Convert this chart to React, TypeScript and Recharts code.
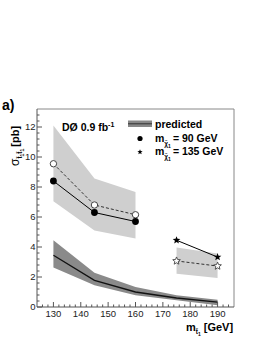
import React from "react";
import {
  ComposedChart,
  Area,
  Line,
  XAxis,
  YAxis,
  ReferenceLine,
} from "recharts";

// stop masses [GeV]
const masses = [130, 145, 160, 175, 190];

// predicted cross section (central, low, high) [pb]
const predCentral = [3.45, 1.78, 1.0, 0.6, 0.32];
const predLow = [2.63, 1.45, 0.78, 0.45, 0.12];
const predHigh = [4.45, 2.29, 1.33, 0.78, 0.48];

// m_chi = 90 GeV limits
const obs90 = [8.4, 6.3, 5.7, null, null];
const exp90 = [9.55, 6.8, 6.15, null, null];
const band90Low = [7.05, 5.1, 4.56, null, null];
const band90High = [12.1, 8.56, 7.67, null, null];

// m_chi = 135 GeV limits
const obs135 = [null, null, null, 4.45, 3.33];
const exp135 = [null, null, null, 3.07, 2.73];
const band135Low = [null, null, null, 2.22, 1.93];
const band135High = [null, null, null, 3.96, 3.56];

const xMajor = [130, 140, 150, 160, 170, 180, 190];
const yMajor = [0, 2, 4, 6, 8, 10, 12];

const xTicks: number[] = [];
for (let v = 126; v <= 194; v += 2) xTicks.push(v);
const yTicks: number[] = [];
for (let i = 0; i <= 32; i++) yTicks.push(Math.round(i * 4) / 10);

const data = masses.map((m, i) => ({
  m,
  pred: predCentral[i],
  predBand: [predLow[i], predHigh[i]],
  obs90: obs90[i],
  exp90: exp90[i],
  band90: band90Low[i] != null ? [band90Low[i], band90High[i]] : null,
  obs135: obs135[i],
  exp135: exp135[i],
  band135: band135Low[i] != null ? [band135Low[i], band135High[i]] : null,
}));

const FONT = "'Liberation Sans', Arial, Helvetica, sans-serif";
const AXIS = "#555";

const starPoints = (cx: number, cy: number, ro: number, ri: number) => {
  const pts: string[] = [];
  for (let k = 0; k < 10; k++) {
    const r = k % 2 === 0 ? ro : ri;
    const a = -Math.PI / 2 + (k * Math.PI) / 5;
    pts.push(`${cx + r * Math.cos(a)},${cy + r * Math.sin(a)}`);
  }
  return pts.join(" ");
};

const YTick = (props: any) => {
  const { x, y, payload } = props;
  const major = yMajor.includes(payload.value);
  return (
    <g>
      <line x1={x} x2={x + (major ? 5 : 2.5)} y1={y} y2={y} stroke={AXIS} />
      {major && (
        <text x={x - 1.5} y={y + 3.3} textAnchor="end" fontSize={9.5} fill="#222" fontFamily={FONT}>
          {payload.value}
        </text>
      )}
    </g>
  );
};

const XTick = (props: any) => {
  const { x, y, payload } = props;
  const major = xMajor.includes(payload.value);
  return (
    <g>
      <line x1={x} x2={x} y1={y} y2={y - (major ? 5 : 2.5)} stroke={AXIS} />
      {major && (
        <text x={x} y={y + 10} textAnchor="middle" fontSize={9.5} fill="#222" fontFamily={FONT}>
          {payload.value}
        </text>
      )}
    </g>
  );
};

const FilledDot = (p: any) =>
  p.cx == null || p.cy == null ? <g key={p.index} /> : <circle key={p.index} cx={p.cx} cy={p.cy} r={3.4} fill="#000" />;
const OpenDot = (p: any) =>
  p.cx == null || p.cy == null ? <g key={p.index} /> : (
    <circle key={p.index} cx={p.cx} cy={p.cy} r={3.2} fill="#fff" stroke="#444" strokeWidth={1} />
  );
const FilledStar = (p: any) =>
  p.cx == null || p.cy == null ? <g key={p.index} /> : (
    <polygon key={p.index} points={starPoints(p.cx, p.cy, 4, 1.7)} fill="#000" />
  );
const OpenStar = (p: any) =>
  p.cx == null || p.cy == null ? <g key={p.index} /> : (
    <polygon key={p.index} points={starPoints(p.cx, p.cy, 4, 1.8)} fill="#fff" stroke="#444" strokeWidth={0.9} />
  );

const Overlay = () => (
  <svg
    width={266}
    height={344}
    style={{ position: "absolute", left: 0, top: 0, pointerEvents: "none" }}
    fontFamily={FONT}
  >
    <text x={2} y={110} fontSize={14} fontWeight="bold" fill="#000">a)</text>
    <text x={62} y={131} fontSize={10.5} fontWeight="bold" fill="#000">
      DØ 0.9 fb<tspan fontSize={7} dy={-4}>-1</tspan>
    </text>

    {/* legend */}
    <rect x={128} y={120.5} width={24} height={6.5} fill="#888" />
    <line x1={128} x2={152} y1={123.8} y2={123.8} stroke="#333" strokeWidth={1} />
    <text x={155} y={127.5} fontSize={10.5} fontWeight="bold" fill="#000">predicted</text>
    <circle cx={140} cy={138.5} r={2.6} fill="#000" />
    <text x={155} y={141.5} fontSize={10.5} fontWeight="bold" fill="#000">
      m<tspan fontSize={6.5} dy={4}>χ̃</tspan><tspan fontSize={5} dy={2}>1</tspan>
      <tspan dy={-6} dx={2}>= 90 GeV</tspan>
    </text>
    <polygon points={starPoints(140, 152, 2.8, 1.2)} fill="#000" />
    <text x={155} y={154.5} fontSize={10.5} fontWeight="bold" fill="#000">
      m<tspan fontSize={6.5} dy={4}>χ̃</tspan><tspan fontSize={5} dy={2}>1</tspan>
      <tspan dy={-6} dx={2}>= 135 GeV</tspan>
    </text>

    {/* y label */}
    <text transform="translate(19,166) rotate(-90)" fontSize={11} fontWeight="bold" fill="#000">
      <tspan fontWeight="normal" fontSize={12}>σ</tspan>
      <tspan fontSize={6.5} dy={3}>t̃</tspan>
      <tspan fontSize={5} dy={2}>1</tspan>
      <tspan fontSize={6.5} dy={-2}>t̃</tspan>
      <tspan fontSize={5} dy={2}>1</tspan>
      <tspan dy={-5} dx={2}>[pb]</tspan>
    </text>

    {/* x label */}
    <text x={186} y={331} fontSize={11} fontWeight="bold" fill="#000">
      m<tspan fontSize={6.5} dy={3}>t̃</tspan><tspan fontSize={5} dy={2}>1</tspan>
      <tspan dy={-5} dx={3}>[GeV]</tspan>
    </text>
  </svg>
);

export default function App() {
  return (
    <div style={{ position: "absolute", left: 0, top: 0, width: 266, height: 344, background: "#fff" }}>
      <ComposedChart
        width={266}
        height={344}
        data={data}
        margin={{ top: 109, right: 32, left: 0, bottom: 0 }}
      >
        <XAxis
          dataKey="m"
          type="number"
          domain={[124, 196]}
          ticks={xTicks}
          interval={0}
          height={37}
          tickSize={0}
          tickMargin={0}
          tickLine={false}
          tick={<XTick />}
          axisLine={{ stroke: AXIS }}
          allowDataOverflow
        />
        <YAxis
          type="number"
          domain={[0, 13.2]}
          ticks={yTicks}
          interval={0}
          width={37}
          tickSize={0}
          tickMargin={0}
          tickLine={false}
          tick={<YTick />}
          axisLine={{ stroke: AXIS }}
          allowDataOverflow
        />
        <ReferenceLine y={13.2} stroke="#888" />
        <ReferenceLine x={196} stroke="#888" />

        <Area dataKey="band90" fill="#cfcfcf" fillOpacity={1} stroke="none" isAnimationActive={false} />
        <Area dataKey="band135" fill="#cfcfcf" fillOpacity={1} stroke="none" isAnimationActive={false} />
        <Area dataKey="predBand" fill="#8a8a8a" fillOpacity={1} stroke="none" isAnimationActive={false} />
        <Line dataKey="pred" stroke="#111" strokeWidth={1.3} dot={false} isAnimationActive={false} />

        <Line dataKey="exp90" stroke="#333" strokeWidth={1} strokeDasharray="3 2" dot={OpenDot} isAnimationActive={false} />
        <Line dataKey="obs90" stroke="#000" strokeWidth={1} dot={FilledDot} isAnimationActive={false} />
        <Line dataKey="exp135" stroke="#333" strokeWidth={1} strokeDasharray="3 2" dot={OpenStar} isAnimationActive={false} />
        <Line dataKey="obs135" stroke="#000" strokeWidth={1} dot={FilledStar} isAnimationActive={false} />
      </ComposedChart>
      <Overlay />
    </div>
  );
}
